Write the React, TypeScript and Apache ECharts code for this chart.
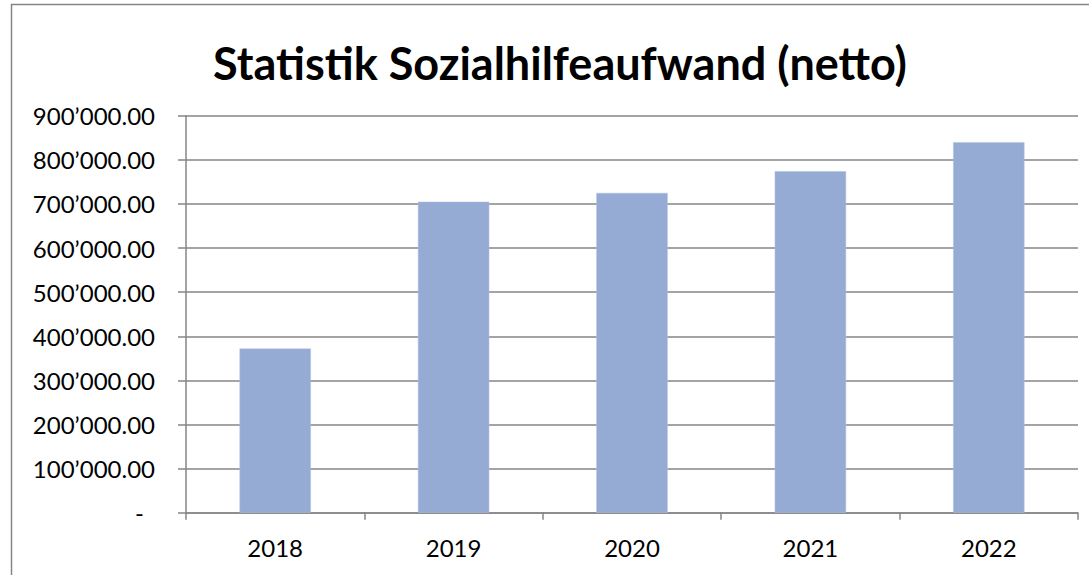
import React, { useEffect, useRef } from "react";
import * as echarts from "echarts";

const titleText = "Statistik Sozialhilfeaufwand (netto)";
const categories = ["2018", "2019", "2020", "2021", "2022"];
const values = [372000, 705000, 725000, 774000, 840000];
const yTicks = { min: 0, max: 900000, interval: 100000 };

function fmt(v: number): string {
  if (v === 0) return "{d|-}";
  const s = Math.round(v).toString().replace(/\B(?=(\d{3})+(?!\d))/g, "\u2019");
  return s + ".00";
}

export default function App() {
  const ref = useRef<HTMLDivElement>(null);
  useEffect(() => {
    if (!ref.current) return;
    const chart = echarts.init(ref.current, undefined, { renderer: "svg" });
    const font = "Lato";
    chart.setOption({
      animation: false,
      backgroundColor: "#ffffff",
      graphic: [
        {
          type: "rect",
          shape: { x: 11.5, y: 4.5, width: 1100, height: 600 },
          style: { fill: "none", stroke: "#868686", lineWidth: 1.5 },
          silent: true,
          z: -1,
        },
        {
          type: "text",
          x: 560,
          y: 63,
          style: {
            text: titleText,
            fontFamily: font,
            fontWeight: "bold",
            fontSize: 45,
            fill: "#000000",
            align: "center",
            verticalAlign: "middle",
          },
        },
      ],
      grid: { left: 186, right: 11, top: 115.7, bottom: 62.3, containLabel: false },
      xAxis: {
        type: "category",
        data: categories,
        boundaryGap: true,
        axisLine: { show: true, lineStyle: { color: "#868686", width: 1.5 } },
        axisTick: { show: true, alignWithLabel: false, length: 7, lineStyle: { color: "#868686", width: 1.5 } },
        axisLabel: { color: "#000000", fontFamily: font, fontSize: 24, margin: 23 },
        splitLine: { show: false },
      },
      yAxis: {
        type: "value",
        min: yTicks.min,
        max: yTicks.max,
        interval: yTicks.interval,
        axisLine: { show: true, lineStyle: { color: "#868686", width: 1.5 } },
        axisTick: { show: true, length: 8, lineStyle: { color: "#868686", width: 1.5 } },
        axisLabel: {
          color: "#000000",
          fontFamily: font,
          fontSize: 24,
          margin: 31,
          formatter: (v: number) => fmt(v),
          rich: { d: { fontFamily: font, fontSize: 24, color: "#000000", padding: [0, 11, 0, 0] } },
        },
        splitLine: { show: true, lineStyle: { color: "#868686", width: 1.5 } },
      },
      series: [
        {
          type: "bar",
          data: values,
          barWidth: "40%",
          itemStyle: { color: "#95abd3", borderColor: "#b3c3e1", borderWidth: 0.5 },
        },
      ],
    });
    return () => chart.dispose();
  }, []);
  return (
    <div
      ref={ref}
      style={{ position: "fixed", left: 0, top: 0, width: 1089, height: 575, background: "#fff" }}
    />
  );
}
